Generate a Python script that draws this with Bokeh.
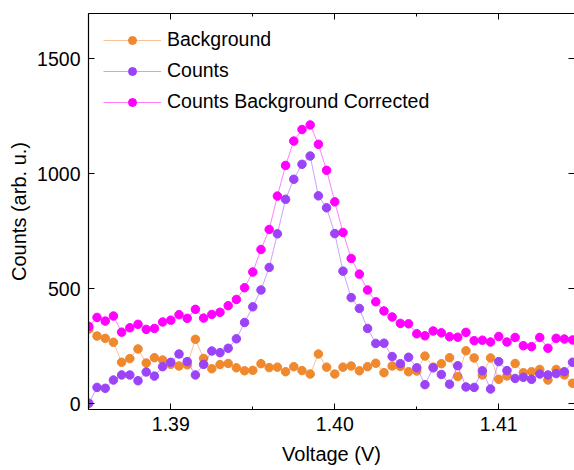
from bokeh.plotting import figure
from bokeh.models import Range1d, LinearAxis, SingleIntervalTicker, PrintfTickFormatter, CustomJSTickFormatter
from bokeh.embed import file_html
from bokeh.resources import INLINE

voltage = [1.3850, 1.3855, 1.3860, 1.3865, 1.3870, 1.3875, 1.3880, 1.3885, 1.3890, 1.3895,
           1.3900, 1.3905, 1.3910, 1.3915, 1.3920, 1.3925, 1.3930, 1.3935, 1.3940, 1.3945,
           1.3950, 1.3955, 1.3960, 1.3965, 1.3970, 1.3975, 1.3980, 1.3985, 1.3990, 1.3995,
           1.4000, 1.4005, 1.4010, 1.4015, 1.4020, 1.4025, 1.4030, 1.4035, 1.4040, 1.4045,
           1.4050, 1.4055, 1.4060, 1.4065, 1.4070, 1.4075, 1.4080, 1.4085, 1.4090, 1.4095,
           1.4100, 1.4105, 1.4110, 1.4115, 1.4120, 1.4125, 1.4130, 1.4135, 1.4140, 1.4145]

background = [326, 295, 285, 268, 181, 197, 239, 178, 201, 191,
              172, 165, 170, 281, 198, 153, 171, 176, 157, 144,
              146, 175, 158, 160, 140, 162, 145, 130, 217, 160,
              130, 160, 165, 144, 162, 177, 136, 165, 163, 140,
              143, 208, 160, 175, 201, 119, 231, 200, 126, 200,
              107, 122, 176, 136, 140, 150, 104, 150, 126, 90]

counts = [3, 72, 68, 104, 126, 126, 101, 139, 121, 162,
          181, 217, 184, 126, 172, 230, 223, 242, 283, 354,
          422, 495, 593, 739, 889, 976, 1041, 1077, 904, 852,
          740, 577, 462, 415, 328, 263, 264, 206, 175, 203,
          157, 84, 157, 128, 86, 166, 74, 72, 144, 65,
          184, 145, 111, 116, 107, 130, 126, 132, 140, 181]

corrected = [337, 376, 360, 382, 312, 331, 346, 324, 328, 356,
             364, 388, 372, 411, 373, 389, 398, 427, 454, 505,
             573, 671, 758, 903, 1036, 1142, 1192, 1212, 1128, 1015,
             878, 745, 632, 564, 495, 444, 404, 378, 350, 348,
             305, 296, 317, 309, 292, 290, 311, 275, 277, 269,
             293, 269, 289, 253, 249, 289, 242, 285, 282, 278]

series_names = ["Background", "Counts", "Counts Background Corrected"]
x_ticks_interval = 0.01
y_ticks_interval = 500

FONT = "Liberation Sans"

p = figure(width=574, height=470, output_backend="svg", toolbar_location=None,
           x_range=Range1d(1.38498, 1.41462), y_range=Range1d(-24, 1696),
           min_border_left=88, min_border_right=0, min_border_top=13, min_border_bottom=61)
p.xgrid.visible = False
p.ygrid.visible = False
p.outline_line_color = None
p.background_fill_color = "white"
p.border_fill_color = "white"

xt = SingleIntervalTicker(interval=x_ticks_interval, num_minor_ticks=2)
yt = SingleIntervalTicker(interval=y_ticks_interval, num_minor_ticks=0)


def style(ax, labels=True):
    ax.major_tick_in = 6
    ax.major_tick_out = 0
    ax.minor_tick_in = 3
    ax.minor_tick_out = 0
    ax.axis_line_color = "black"
    ax.axis_line_width = 1.2
    ax.major_tick_line_color = "black"
    ax.minor_tick_line_color = "black"
    ax.major_tick_line_width = 1
    ax.minor_tick_line_width = 1
    if labels:
        ax.major_label_text_font = FONT
        ax.major_label_text_font_size = "19.5px"
        ax.major_label_text_color = "black"
        ax.axis_label_text_font = FONT
        ax.axis_label_text_font_size = "20px"
        ax.axis_label_text_font_style = "normal"
        ax.axis_label_text_color = "black"
    else:
        ax.formatter = CustomJSTickFormatter(code="return '';")
        ax.major_label_text_font_size = "1px"
        ax.major_label_standoff = 0


xa = p.xaxis[0]
xa.ticker = xt
xa.formatter = PrintfTickFormatter(format="%.2f")
xa.axis_label = "Voltage (V)"
style(xa)
xa.major_label_standoff = 7
xa.axis_label_standoff = 9

ya = p.yaxis[0]
ya.ticker = yt
ya.axis_label = "Counts (arb. u.)"
style(ya)
ya.major_label_standoff = 8
ya.axis_label_standoff = 4

top = LinearAxis(ticker=xt)
style(top, labels=False)
p.add_layout(top, "above")

right = LinearAxis(ticker=yt)
style(right, labels=False)
right.axis_line_color = None
p.add_layout(right, "right")

colors = ["#F0882E", "#9B43F7", "#FF00FF"]
data = [background, counts, corrected]
for name, ys, c in zip(series_names, data, colors):
    p.line(voltage, ys, line_color=c, line_alpha=0.5, line_width=1, legend_label=name)
    p.scatter(voltage, ys, size=8.5, fill_color=c, line_color=c, legend_label=name)

lg = p.legend[0]
lg.location = "top_left"
lg.border_line_color = None
lg.background_fill_alpha = 0
lg.label_text_font = FONT
lg.label_text_font_size = "19.5px"
lg.label_text_color = "black"
lg.glyph_width = 58
lg.glyph_height = 20
lg.label_height = 20
lg.spacing = 8
lg.padding = 0
lg.margin = 15
lg.label_standoff = 6

open("out.html", "w").write(file_html(p, INLINE))
